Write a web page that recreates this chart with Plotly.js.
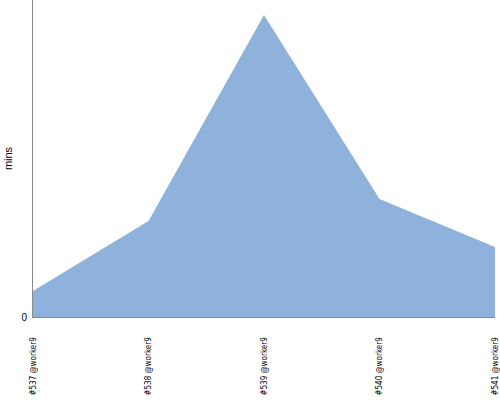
<!DOCTYPE html>
<html>
<head>
<meta charset="utf-8">
<script src="https://cdn.plot.ly/plotly-3.0.1.min.js"></script>
<style>html,body{margin:0;padding:0;background:#fff;}#chart{width:500px;height:400px;}</style>
</head>
<body>
<div id="chart"></div>
<script>
var builds = ["#537 @worker9", "#538 @worker9", "#539 @worker9", "#540 @worker9", "#541 @worker9"];
var durations = [2.6, 9.6, 30.2, 11.8, 7.0];
var yTicks = [0];

var trace = {
  x: builds,
  y: durations,
  type: "scatter",
  mode: "none",
  fill: "tozeroy",
  fillcolor: "rgb(143,178,220)",
  hoverinfo: "none"
};

var layout = {
  width: 500,
  height: 400,
  margin: {l: 33, r: 5, t: 0, b: 83, pad: 0},
  paper_bgcolor: "#fff",
  plot_bgcolor: "#fff",
  showlegend: false,
  font: {family: "Liberation Sans Narrow, DejaVu Sans Condensed, sans-serif", color: "#000"},
  xaxis: {
    type: "category",
    range: [0, builds.length - 1],
    showgrid: false,
    zeroline: false,
    showline: true,
    linecolor: "#888",
    linewidth: 1,
    ticks: "",
    tickangle: -90,
    ticklabelstandoff: 16,
    tickfont: {size: 8, family: "Liberation Sans Narrow, DejaVu Sans Condensed, sans-serif"},
    automargin: false
  },
  yaxis: {
    range: [0, 31.7],
    showgrid: false,
    zeroline: false,
    showline: true,
    linecolor: "#888",
    linewidth: 1,
    ticks: "",
    tickvals: yTicks,
    ticktext: yTicks.map(String),
    ticklabelstandoff: 3,
    tickfont: {size: 10, family: "Liberation Sans, sans-serif"},
    title: {text: "mins", font: {size: 11, family: "Liberation Sans, sans-serif"}, standoff: 6},
    automargin: false
  }
};

Plotly.newPlot("chart", [trace], layout, {staticPlot: true, displayModeBar: false});
</script>
</body>
</html>
